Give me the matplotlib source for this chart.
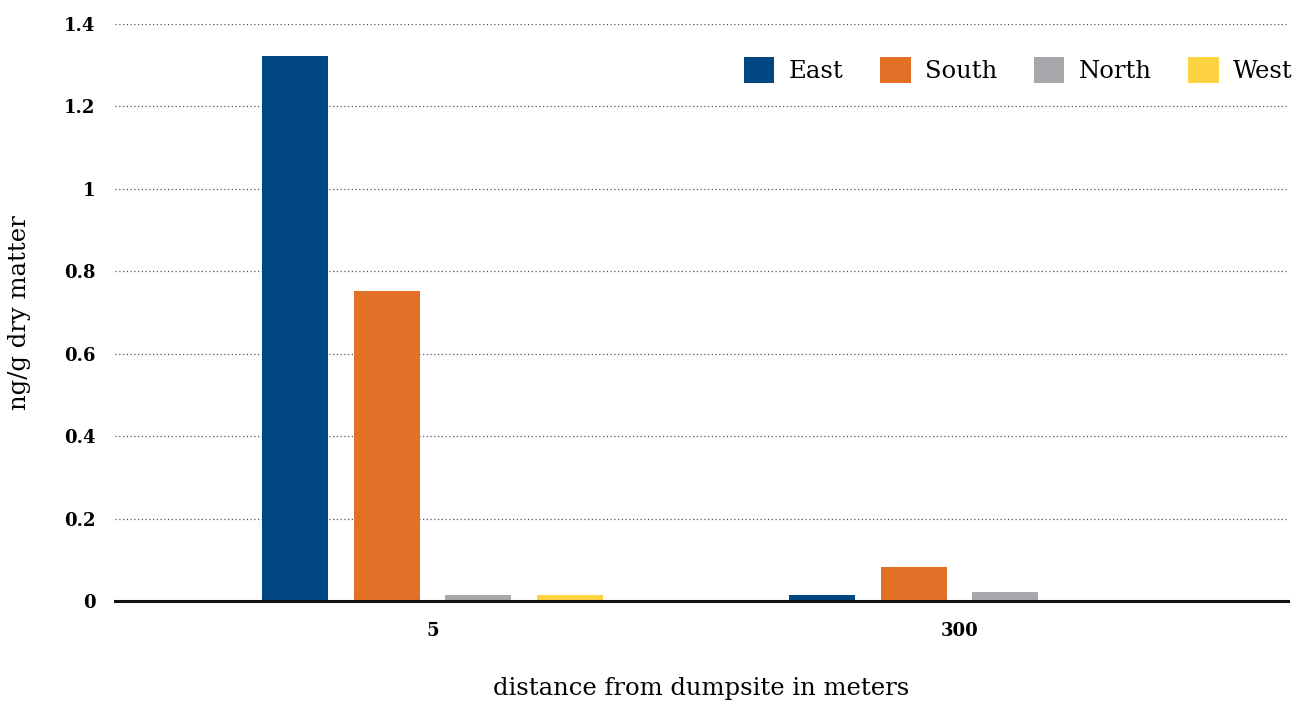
import matplotlib
matplotlib.use("Agg")
import matplotlib.pyplot as plt
from matplotlib.patches import Patch
import numpy as np

categories = ["5", "300"]
series = ["East", "South", "North", "West"]
east = [1.323, 0.015]
south = [0.752, 0.083]
north = [0.015, 0.022]
west = [0.015, 0.0]
colors = ["#004680", "#E27027", "#A7A8AB", "#FED341"]
yticks = [0, 0.2, 0.4, 0.6, 0.8, 1.0, 1.2, 1.4]
ytick_labels = ["0", "0.2", "0.4", "0.6", "0.8", "1", "1.2", "1.4"]

values = [east, south, north, west]

fig = plt.figure(figsize=(13.1, 7.02), dpi=100)
ax = fig.add_axes([115/1310, 1-601/702, (1288-115)/1310, (601-24)/702])

x = np.arange(len(categories))
step = 0.1735
width = 0.125
for i, (name, vals, c) in enumerate(zip(series, values, colors)):
    ax.bar(x + (i - 1.5) * step, vals, width=width, color=c, label=name, zorder=3)

ax.set_xlim(-0.602, 1.623)
ax.set_ylim(0, 1.4)
ax.set_yticks(yticks)
ax.set_yticklabels(ytick_labels)
ax.set_xticks(x)
ax.set_xticklabels(categories)

serif = "DejaVu Serif"
for lab in ax.get_yticklabels() + ax.get_xticklabels():
    lab.set_fontfamily(serif)
    lab.set_fontweight("bold")
    lab.set_fontsize(13)

ax.tick_params(axis="y", length=0, pad=14)
ax.tick_params(axis="x", length=0, pad=15)
ax.yaxis.grid(True, linestyle=(0, (1, 2)), color="#555555", linewidth=0.9, zorder=0)
for s in ["top", "right", "left"]:
    ax.spines[s].set_visible(False)
ax.spines["bottom"].set_linewidth(2.2)
ax.spines["bottom"].set_color("#111111")
ax.spines["bottom"].set_zorder(4)

ax.set_xlabel("distance from dumpsite in meters", fontfamily=serif, fontsize=17.5, labelpad=27)
ax.set_ylabel("ng/g dry matter", fontfamily=serif, fontsize=17.5, labelpad=24)

handles = [Patch(facecolor=c, label=n) for n, c in zip(series, colors)]
leg = ax.legend(handles=handles, loc="upper right", ncol=4, frameon=False,
                prop={"family": serif, "size": 17.5},
                handlelength=1.25, handleheight=1.25, handletextpad=0.6,
                columnspacing=1.5, bbox_to_anchor=(1.023, 0.981))

fig.savefig("out.png", dpi=100)
